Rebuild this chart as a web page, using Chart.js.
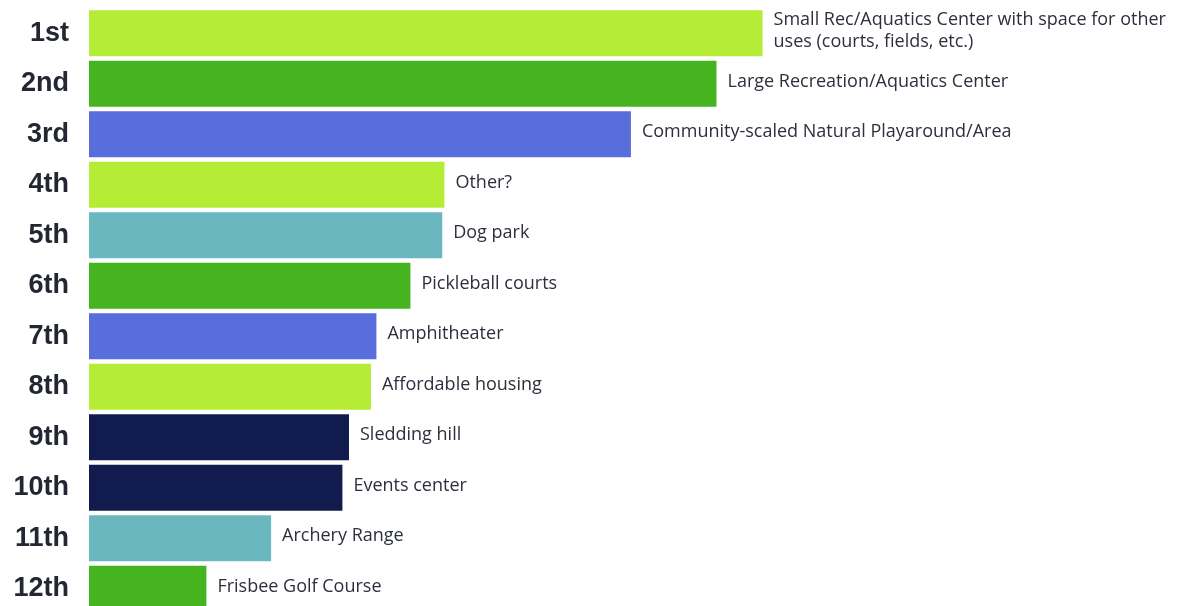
<!DOCTYPE html>
<html lang="en">
<head>
  <meta charset="UTF-8">
  <title>Ranked Amenities</title>
  <script src="https://cdn.jsdelivr.net/npm/chart.js"></script>
  <style>
    html, body {
      margin: 0;
      padding: 0;
      background: #ffffff;
      overflow: hidden;
    }
  </style>
</head>
<body>
  <canvas id="chart" width="1186" height="614"></canvas>

  <script>
    // ranks shown on the y axis
    const ranks = ['1st', '2nd', '3rd', '4th', '5th', '6th', '7th', '8th', '9th', '10th', '11th', '12th'];

    // amenity names written next to each bar (arrays = multi line)
    const amenities = [
      ['Small Rec/Aquatics Center with space for other', 'uses (courts, fields, etc.)'],
      'Large Recreation/Aquatics Center',
      'Community-scaled Natural Playaround/Area',
      'Other?',
      'Dog park',
      'Pickleball courts',
      'Amphitheater',
      'Affordable housing',
      'Sledding hill',
      'Events center',
      'Archery Range',
      'Frisbee Golf Course'
    ];

    // relative score
    const scores = [614, 572, 494, 324, 322, 293, 262, 257, 237, 231, 166, 107];

    const barColors = [
      '#b4ec36', '#46b41f', '#576edb', '#b4ec36', '#6bb7bf', '#46b41f',
      '#576edb', '#b4ec36', '#111b4d', '#111b4d', '#6bb7bf', '#46b41f'
    ];

    // draw amenity name just right of each bar
    const barLabels = {
      id: 'barLabels',
      afterDatasetsDraw(chart) {
        const ctx = chart.ctx;
        const meta = chart.getDatasetMeta(0);
        ctx.save();
        ctx.font = '18px "Open Sans", Arial, sans-serif';
        ctx.fillStyle = '#2c303c';
        ctx.textAlign = 'left';
        ctx.textBaseline = 'middle';
        meta.data.forEach((bar, i) => {
          const text = amenities[i];
          const x = bar.x + 11;
          if (Array.isArray(text)) {
            const lh = 22;
            const y0 = bar.y - 2 - (text.length - 1) * lh / 2;
            text.forEach((line, j) => ctx.fillText(line, x, y0 + j * lh));
          } else {
            ctx.fillText(text, x, bar.y - 2);
          }
        });
        ctx.restore();
      }
    };

    new Chart(document.getElementById('chart'), {
      type: 'bar',
      data: {
        labels: ranks,
        datasets: [{
          data: scores,
          backgroundColor: barColors,
          borderWidth: 0,
          categoryPercentage: 1,
          barPercentage: 0.91
        }]
      },
      options: {
        indexAxis: 'y',
        responsive: false,
        animation: false,
        devicePixelRatio: 1,
        layout: { padding: { top: 8, bottom: 0, left: 0, right: 0 } },
        plugins: {
          legend: { display: false },
          tooltip: { enabled: false }
        },
        scales: {
          x: {
            display: false,
            min: 0,
            max: 1000
          },
          y: {
            grid: { display: false, drawTicks: false },
            border: { display: false },
            ticks: {
              color: '#232733',
              padding: 20,
              font: { family: '"Liberation Sans", Arial, sans-serif', size: 27, weight: 'bold' }
            },
            afterFit(scale) {
              scale.width = 89;
              scale.paddingTop = 0;
              scale.paddingBottom = 0;
            }
          }
        }
      },
      plugins: [barLabels]
    });
  </script>
</body>
</html>
